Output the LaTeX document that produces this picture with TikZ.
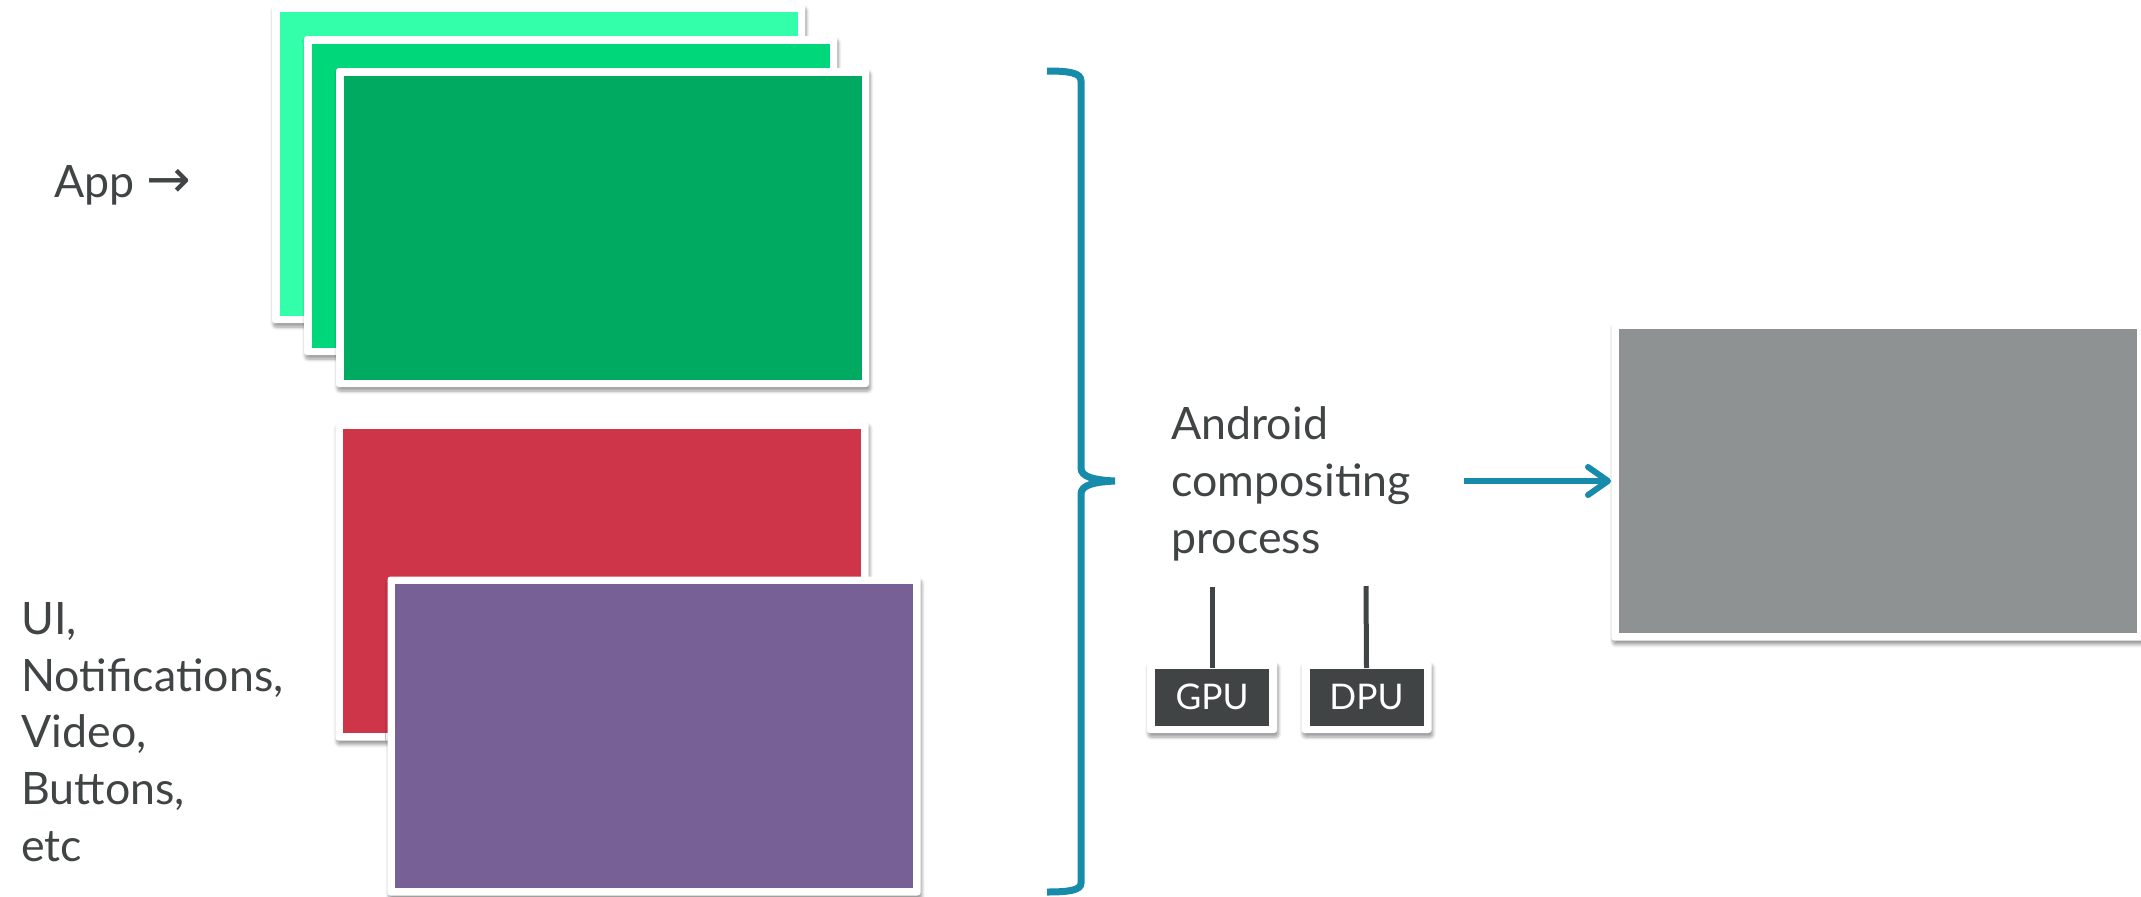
\documentclass[tikz,border=0pt]{standalone}
\usepackage{fontspec}
\setmainfont{Lato}
\newfontfamily\arrowfont{DejaVu Sans}
\usetikzlibrary{shadows.blur,arrows.meta}

\definecolor{appLight}{RGB}{51,255,170}
\definecolor{appMid}{RGB}{0,214,122}
\definecolor{appDeep}{RGB}{0,170,96}
\definecolor{uiRed}{RGB}{207,53,73}
\definecolor{ovlPurple}{RGB}{119,96,150}
\definecolor{outGray}{RGB}{143,146,146}
\definecolor{braceTeal}{RGB}{22,139,170}
\definecolor{inkGray}{RGB}{64,68,69}

\tikzset{every picture/.style={line width=0.75pt},
  card/.style={fill=white, rounded corners=2.25pt, inner sep=0pt,
    minimum width=399.75pt, minimum height=239.25pt,
    blur shadow={shadow xshift=1pt, shadow yshift=-3pt, shadow blur steps=6,
      shadow blur radius=2.5pt, shadow opacity=40}},
  panel/.style={inner sep=0pt, minimum width=388.5pt, minimum height=228pt},
  chip/.style={fill=white, rounded corners=2.25pt, inner sep=0pt,
    minimum width=97.5pt, minimum height=54pt,
    blur shadow={shadow xshift=1pt, shadow yshift=-3pt, shadow blur steps=6,
      shadow blur radius=2.5pt, shadow opacity=40}},
  chipin/.style={fill=inkGray, text=white, inner sep=0pt,
    minimum width=85.5pt, minimum height=42.75pt, font=\fontsize{26.5}{30}\selectfont},
  label/.style={text=inkGray, inner sep=0pt, align=left, font=\fontsize{33.5}{42.5}\selectfont},
  wire/.style={draw=inkGray, line width=3.75pt},
  flow/.style={draw=braceTeal, line width=4.5pt, -{Straight Barb[length=15pt,width=21pt,round]}},
  brace/.style={draw=braceTeal, line width=5.25pt}
}

\begin{document}
\begin{tikzpicture}[x=0.75pt,y=0.75pt,yscale=-1,xscale=1]
\useasboundingbox (0,0) rectangle (2141,896);

%Shape: App layers
\node [card] (appA) at (538.5,163.5) {};
\node [panel, fill=appLight] (appAin) at (appA) {};
\node [card] (appB) at (570.5,195.5) {};
\node [panel, fill=appMid] (appBin) at (appB) {};
\node [card] (appC) at (602.5,227.5) {};
\node [panel, fill=appDeep] (appCin) at (appC) {};

%Shape: UI layers
\node [card] (ui) at (602,581) {};
\node [panel, fill=uiRed] (uiin) at (ui) {};
\node [card] (ovl) at (654,736) {};
\node [panel, fill=ovlPurple] (ovlin) at (ovl) {};

%Shape: composed output
\node [card] (out) at (1878,481) {};
\node [panel, fill=outGray] (outin) at (out) {};

%Shape: Brace
\draw [brace] (1047,71) .. controls (1070,71) and (1081,73) .. (1081,81) -- (1081,468) .. controls (1081,477) and (1094,480) .. (1115,481) .. controls (1094,482) and (1081,485) .. (1081,494) -- (1081,883) .. controls (1081,890) and (1070,892) .. (1047,892) ;

% Text Node
\node [label, anchor=base west] (appTxt) at (54,197) {App {\arrowfont\fontsize{40}{42.5}\selectfont →}};
% Text Node
\node [label, anchor=base west] (uiTxt) at (21,861) {UI,\\Notifications,\\Video,\\Buttons,\\etc};
% Text Node
\node [label, anchor=base west] (procTxt) at (1171,553) {Android\\compositing\\process};

%Shape: GPU and DPU
\node [chip] (gpu) at (1212,697) {};
\node [chipin] (gpuIn) at (gpu) {GPU};
\node [chip] (dpu) at (1366.5,697) {};
\node [chipin] (dpuIn) at (dpu) {DPU};
\coordinate (gpuTop) at (1212,587);
\coordinate (dpuTop) at (1366,586);

%Straight Lines
\draw [wire] (gpuTop) -- (gpuIn.north) ;
\draw [wire] (dpuTop) -- (dpuIn.north) ;
%Straight Lines
\draw [flow, shorten <=40pt] (procTxt.east |- out.west) -- (out.west) ;

\end{tikzpicture}
\end{document}
